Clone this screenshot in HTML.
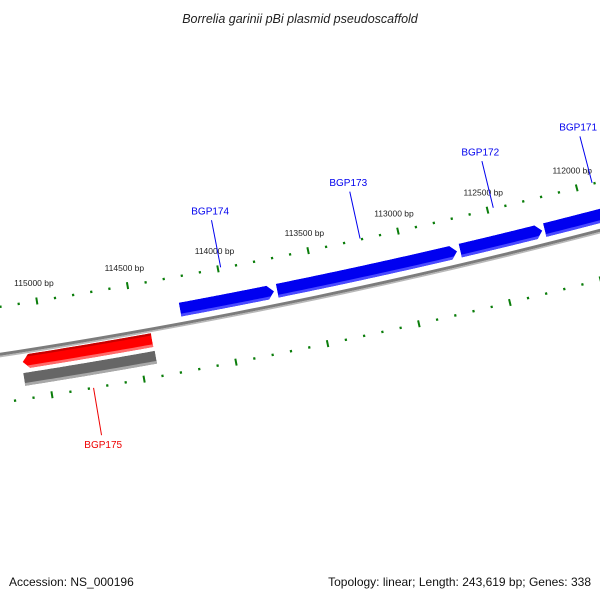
<!DOCTYPE html>
<html><head><meta charset="utf-8"><style>
html,body{margin:0;padding:0;background:#fff;}
svg{display:block;font-family:"Liberation Sans","DejaVu Sans",sans-serif;}
</style></head><body>
<svg id="map" width="600" height="600" viewBox="0 0 600 600" xmlns="http://www.w3.org/2000/svg">
<defs id="defs"></defs>
<text x="300" y="23" text-anchor="middle" font-size="12.5" font-style="italic" fill="#222">Borrelia garinii pBi plasmid pseudoscaffold</text>
<g id="ticks"></g>
<g id="backbone"></g>
<g id="genes"></g>
<g id="labels"></g>
<text x="9" y="586" font-size="12" fill="#111">Accession: NS_000196</text>
<text x="591" y="586" text-anchor="end" font-size="12" fill="#111">Topology: linear; Length: 243,619 bp; Genes: 338</text>
</svg>
<script>
// data
const tickMajorStart = 111500;
const tickMajorEnd = 115500;
const tickMinorStep = 100;
const tickMajorStep = 500;
const geneNames = ["BGP171","BGP172","BGP173","BGP174","BGP175","BGP175-gene"];
const geneStarts = [112225,112695,113708,114243,115128,115134];
const geneEnds = [111600,112238,112712,113725,114421,114417];
const geneStrand = [1,1,1,1,-1,0];
const geneTrack = ["fwd","fwd","fwd","fwd","rev","gene"];
const labelled = [true,true,true,true,true,false];

const NS="http://www.w3.org/2000/svg";
const cx=-911, cy=-5568, R=5992;
const a115=Math.atan2(302-cy,37-cx), a112=Math.atan2(185-cy,576-cx);
function ang(bp){return a115+(bp-115000)*(a112-a115)/(-3000);}
function pt(bp,r){const a=ang(bp);return [cx+r*Math.cos(a),cy+r*Math.sin(a)];}
function arcPts(b1,b2,r){const n=40,o=[];for(let i=0;i<=n;i++){o.push(pt(b1+(b2-b1)*i/n,r));}return o;}
function ps(a){return a.map(p=>p[0].toFixed(2)+","+p[1].toFixed(2)).join(" ");}
function mk(tag,attrs,parent){const e=document.createElementNS(NS,tag);for(const k in attrs)e.setAttribute(k,attrs[k]);parent.appendChild(e);return e;}

// ticks
const tg=document.getElementById('ticks');
for(let bp=tickMajorStart;bp<=tickMajorEnd;bp+=tickMinorStep){
  const major=bp%tickMajorStep===0;
  [R-47,R+48].forEach(r=>{
    const h=major?3.5:1.2;
    const p1=pt(bp,r-h),p2=pt(bp,r+h);
    const l=mk('line',{x1:p1[0],y1:p1[1],x2:p2[0],y2:p2[1],stroke:'#0a7d0a','stroke-width':major?2:2.2},tg);
    
    
  });
  if(major){
    const p=pt(bp,R-65);
    const t=mk('text',{x:p[0],y:p[1]+3,'text-anchor':'middle','font-size':'8.5',fill:'#222'},tg);
    t.textContent=bp+' bp';
    
    
  }
}

// backbone
const bg=document.getElementById('backbone');
const bl=mk('polyline',{points:ps(arcPts(116500,110500,R)),fill:'none',stroke:'#7c7c7c','stroke-width':3},bg);


const bl2=mk('polyline',{points:ps(arcPts(116500,110500,R+2.2)),fill:'none',stroke:'#b8b8b8','stroke-width':1.6},bg);



// genes
const gg=document.getElementById('genes'), defs=document.getElementById('defs');
const tracks={fwd:[R-21,R-7,'#0000f0','#4a4aff',null],rev:[R+4,R+18,'#ff0000','#ff6a6a','#c80000'],gene:[R+22,R+35,'#666666','#a8a8a8',null]};
const lg=document.getElementById('labels');
geneNames.forEach((name,i)=>{
  const [r1,r2,c,light,dark]=tracks[geneTrack[i]];
  const s=geneStarts[i],e=geneEnds[i],rm=(r1+r2)/2;
  let poly;
  if(geneStrand[i]===1){
    const eb=e+35;
    poly=[...arcPts(s,eb,r1),pt(e,rm),...arcPts(eb,s,r2)];
  }else if(geneStrand[i]===-1){
    const sb=s-35;
    poly=[pt(s,rm),...arcPts(sb,e,r1),...arcPts(e,sb,r2)];
  }else{
    poly=[...arcPts(s,e,r1),...arcPts(e,s,r2)];
  }
  const cp=mk('clipPath',{id:'clip'+i},defs);
  mk('polygon',{points:ps(poly)},cp);
  const g=mk('g',{'clip-path':'url(#clip'+i+')'},gg);
  
  
  mk('polygon',{points:ps(poly),fill:c},g);
  mk('polyline',{points:ps(arcPts(s+60,e-60,r2-1.3)),fill:'none',stroke:light,'stroke-width':3},g);
  if(dark) mk('polyline',{points:ps(arcPts(s+60,e-60,r1+1)),fill:'none',stroke:dark,'stroke-width':2.5},g);
  if(labelled[i]){
    const mid=(s+e)/2;
    const sign=geneStrand[i]===-1?1:-1;
    const col=geneStrand[i]===-1?'#ee0000':'#0000ee';
    const p1=pt(mid,R+sign*48),p2=pt(mid,R+sign*96),p3=pt(mid,R+sign*(sign>0?106:103));
    const l=mk('line',{x1:p1[0],y1:p1[1],x2:p2[0],y2:p2[1],stroke:col,'stroke-width':1},lg);
    
    
    const t=mk('text',{x:p3[0],y:p3[1]+(sign>0?3:1),'text-anchor':'middle','font-size':'10',fill:col},lg);
    t.textContent=name;
    
    
  }
});
</script>
</body></html>
